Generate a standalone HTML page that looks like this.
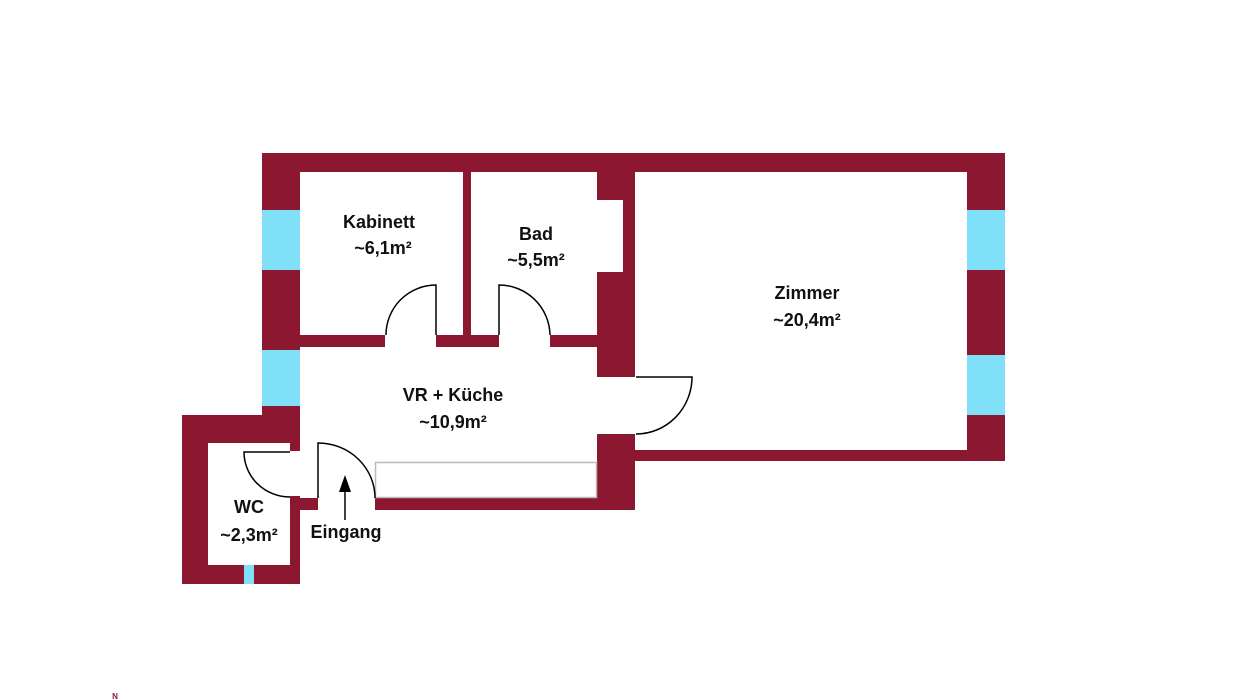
<!DOCTYPE html>
<html><head><style>body{margin:0;background:#fff}svg{display:block}text{font-family:"Liberation Sans",sans-serif;font-weight:bold;font-size:18px;fill:#111;text-anchor:middle}</style></head><body>
<svg width="1236" height="700" xmlns="http://www.w3.org/2000/svg">
<g fill="#8b1730">
<rect x="262" y="153" width="743" height="19"/>
<rect x="262" y="153" width="38" height="290"/>
<rect x="967" y="153" width="38" height="308"/>
<rect x="597" y="450" width="408" height="11"/>
<rect x="597" y="153" width="38" height="47"/>
<rect x="623" y="153" width="12" height="224"/>
<rect x="597" y="272" width="38" height="105"/>
<rect x="597" y="434" width="38" height="76"/>
<rect x="375" y="498" width="260" height="12"/>
<rect x="463" y="153" width="8" height="194"/>
<rect x="300" y="335" width="85" height="12"/>
<rect x="436" y="335" width="63" height="12"/>
<rect x="550" y="335" width="47" height="12"/>
<rect x="182" y="415" width="118" height="28"/>
<rect x="182" y="415" width="26" height="169"/>
<rect x="182" y="565" width="118" height="19"/>
<rect x="290" y="415" width="10" height="36"/>
<rect x="290" y="496" width="10" height="88"/>
<rect x="300" y="498" width="18" height="12"/>
</g>
<g fill="#7fe0f7">
<rect x="262" y="210" width="38" height="60"/>
<rect x="262" y="350" width="38" height="56"/>
<rect x="967" y="210" width="38" height="60"/>
<rect x="967" y="355" width="38" height="60"/>
<rect x="244" y="565" width="10" height="19"/>
</g>
<rect x="375.5" y="462.5" width="221" height="35" fill="none" stroke="#bbb" stroke-width="1.5"/>
<g fill="none" stroke="#000" stroke-width="1.5">
<path d="M436 335 V285 A50 50 0 0 0 386 335"/>
<path d="M499 335 V285 A51 51 0 0 1 550 335"/>
<path d="M636 377 H692 A56 57 0 0 1 636 434"/>
<path d="M318 498 V443 A57 55 0 0 1 375 498"/>
<path d="M290 452 H244 A46 45 0 0 0 290 497"/>
<path d="M345 520 V486"/>
</g>
<polygon points="345,475 339,492 351,492" fill="#000"/>
<text x="379" y="228">Kabinett</text>
<text x="383" y="254">~6,1m²</text>
<text x="536" y="240">Bad</text>
<text x="536" y="266">~5,5m²</text>
<text x="807" y="299">Zimmer</text>
<text x="807" y="326">~20,4m²</text>
<text x="453" y="401">VR + Küche</text>
<text x="453" y="428">~10,9m²</text>
<text x="249" y="513">WC</text>
<text x="249" y="541">~2,3m²</text>
<text x="346" y="538">Eingang</text>
<text x="115" y="699" style="font-size:8px;fill:#8b1730">N</text>
</svg>
</body></html>
